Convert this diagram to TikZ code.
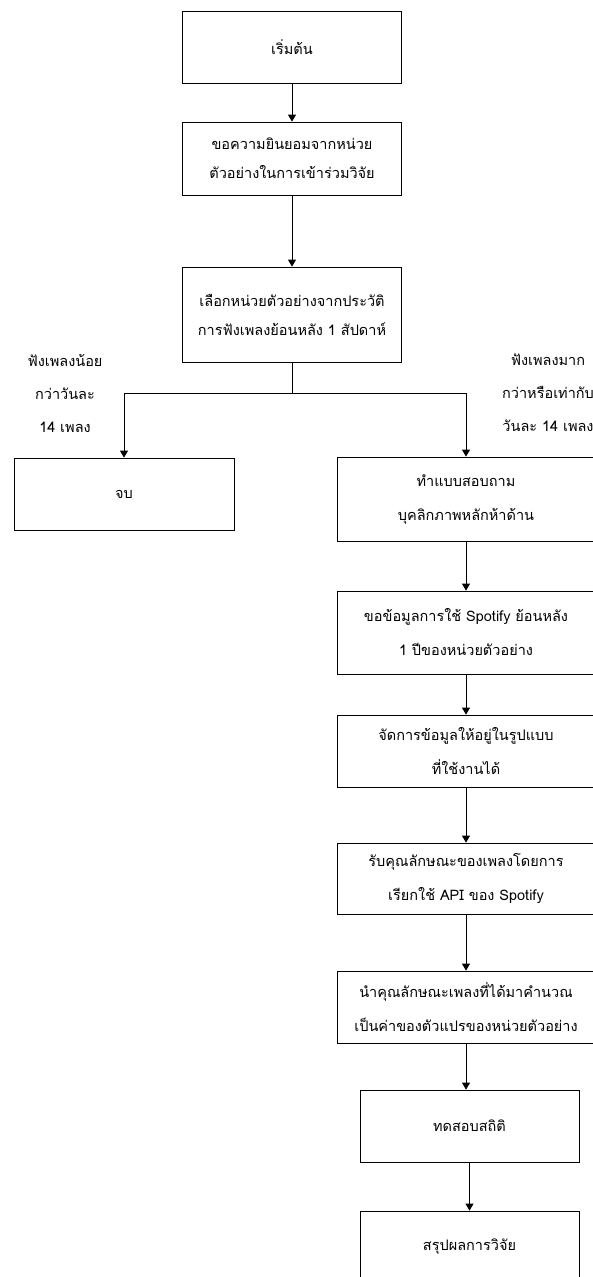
\documentclass[tikz,border=0pt]{standalone}
\usepackage{fontspec}
\setmainfont[Script=Thai]{Loma}
\usetikzlibrary{arrows.meta}

\begin{document}
\begin{tikzpicture}[x=1pt,y=-1pt,>={Triangle[width=8pt,length=7pt]},line width=.8pt,
 box/.style={draw,minimum width=219pt,minimum height=72pt,align=center,font=\fontsize{14.5}{29}\selectfont},
 widebox/.style={box,minimum width=258pt,font=\fontsize{14.5}{34}\selectfont},
 note/.style={align=center,font=\fontsize{14.5}{33}\selectfont}]
\useasboundingbox(0,0)rectangle(593,1277);
\node[box](start)at(292,47){เริ่มต้น};
\node[box,minimum height=73pt](consent)at(292,158.5){ขอความยินยอมจากหน่วย\\ตัวอย่างในการเข้าร่วมวิจัย};
\node[box,minimum height=95pt](select)at(292,314.5){เลือกหน่วยตัวอย่างจากประวัติ\\การฟังเพลงย้อนหลัง 1 สัปดาห์};
\node[note](less)at(65,393){ฟังเพลงน้อย\\กว่าวันละ\\14 เพลง};
\node[note](more)at(548,393){ฟังเพลงมาก\\กว่าหรือเท่ากับ\\วันละ 14 เพลง};
\node[box,minimum width=220pt](stop)at(124,494){จบ};
\node[widebox,minimum height=84pt](quiz)at(466,499){ทำแบบสอบถาม\\บุคลิกภาพหลักห้าด้าน};
\node[widebox,minimum height=83pt](data)at(466,632.5){ขอข้อมูลการใช้ Spotify ย้อนหลัง\\1 ปีของหน่วยตัวอย่าง};
\node[widebox](clean)at(466,751){จัดการข้อมูลให้อยู่ในรูปแบบ\\ที่ใช้งานได้};
\node[widebox,minimum height=71pt](api)at(466,878.5){รับคุณลักษณะของเพลงโดยการ\\เรียกใช้ API ของ Spotify};
\node[widebox](calc)at(466,1007){นำคุณลักษณะเพลงที่ได้มาคำนวณ\\เป็นค่าของตัวแปรของหน่วยตัวอย่าง};
\node[box](stat)at(469.5,1126){ทดสอบสถิติ};
\node[box](sum)at(469.5,1247){สรุปผลการวิจัย};
\coordinate(fork)at(292,393);
\draw[->](start)--(consent);\draw[->](consent)--(select);
\draw(select)--(fork);\draw[->](fork)-|(stop);\draw[->](fork)-|(quiz);
\draw[->](quiz)--(data);\draw[->](data)--(clean);\draw[->](clean)--(api);\draw[->](api)--(calc);
\draw[->](calc)--(calc|-stat.north);\draw[->](stat)--(sum);
\end{tikzpicture}
\end{document}
